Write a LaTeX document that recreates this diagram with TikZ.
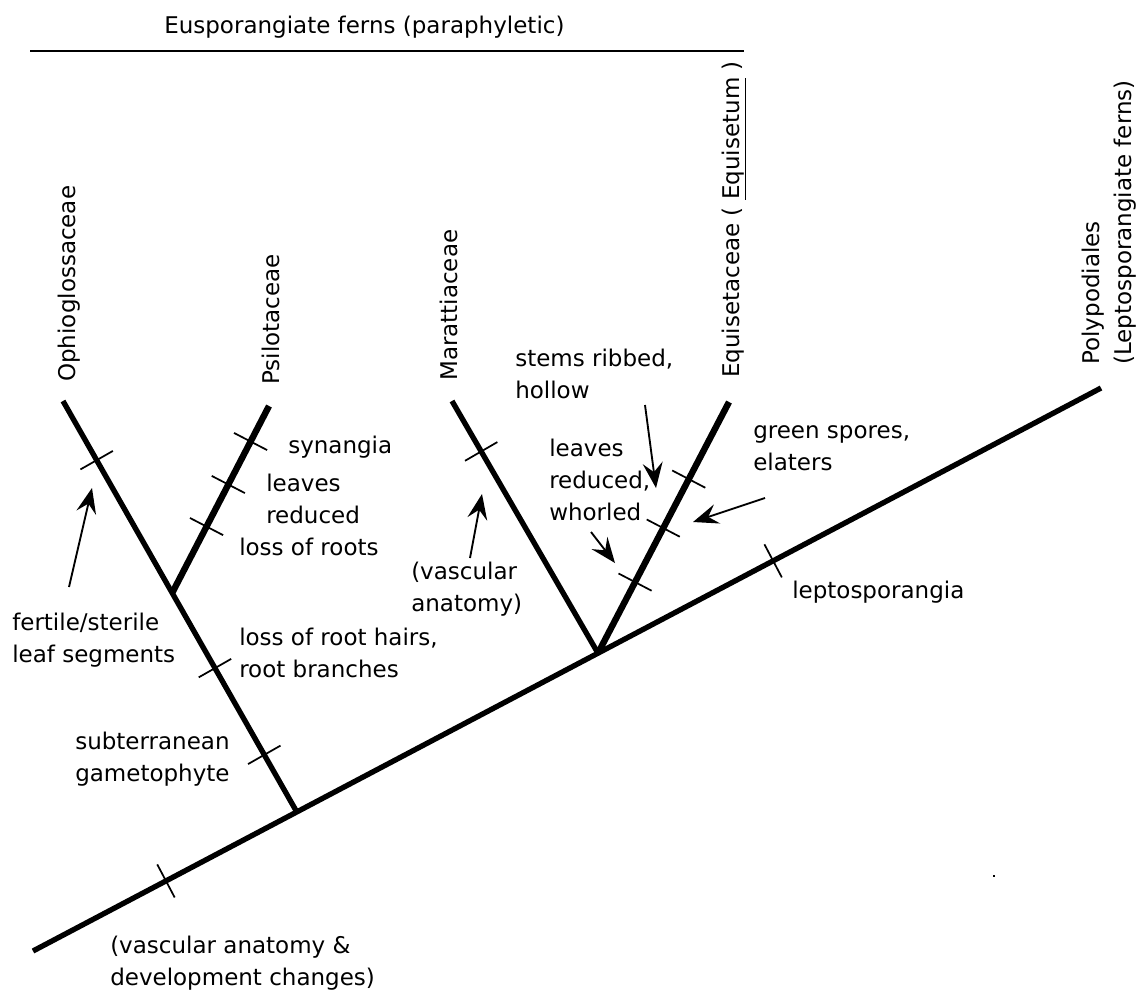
\documentclass[tikz,border=0pt]{standalone}
\usepackage{fontspec}
\setmainfont{DejaVu Sans}
\usetikzlibrary{calc}
\usetikzlibrary{arrows.meta}

\tikzset{
  branch/.style={black, line width=4pt},
  thickbranch/.style={black, line width=4.8pt},
  crossbar/.style={black, line width=1.3pt},
  pointer/.style={black, line width=1.4pt, -{Stealth[length=19pt,width=15pt,inset=7pt]}},
  lbl/.style={inner sep=0, align=left, anchor=base west, font=\fontsize{17.25pt}{24pt}\selectfont},
  taxon/.style={lbl, rotate=90},
}
% short bar across a branch: #1 and #2 are the branch ends, #3 the position
\newcommand{\trait}[3]{\draw[crossbar] ($(#1)!#3!(#2)!14pt!90:(#2)$) -- ($(#1)!#3!(#2)!14pt!-90:(#2)$);}

\begin{document}
\begin{tikzpicture}[x=0.75pt, y=-0.75pt]
\useasboundingbox (0,0) rectangle (1141,993);

% branch ends
\coordinate (root) at (33,951);
\coordinate (poly) at (1101,388);
\coordinate (ophio) at (63,401);
\coordinate (psilo) at (269,406);
\coordinate (maratt) at (452,401);
\coordinate (equis) at (729,402);
\coordinate (ophiobase) at ($(root)!0.247!(poly)$);
\coordinate (psilobase) at ($(ophio)!0.467!(ophiobase)$);
\coordinate (equibase) at ($(root)!0.529!(poly)$);

\draw[branch] (root) -- (poly);
\draw[branch] (ophio) -- (ophiobase);
\draw[thickbranch] (psilo) -- (psilobase);
\draw[branch] (maratt) -- (equibase);
\draw[thickbranch] (equis) -- (equibase);

\trait{root}{poly}{0.1245}
\trait{root}{poly}{0.693}
\foreach \t in {0.144,0.650,0.861} {\trait{ophio}{ophiobase}{\t}}
\foreach \t in {0.19,0.42,0.645} {\trait{psilo}{psilobase}{\t}}
\foreach \t in {0.307,0.502,0.717} {\trait{equis}{equibase}{\t}}
\trait{maratt}{equibase}{0.2}

% taxa (base = last line)
\node[taxon] (t-ophio) at (75,382) {Ophioglossaceae};
\node[taxon] (t-psilo) at (279,385) {Psilotaceae};
\node[taxon] (t-maratt) at (457,381) {Marattiaceae};
\node[taxon] (t-equis) at (739,378) {Equisetaceae ( \underline{Equisetum} )};
\node[taxon] (t-poly) at (1131,365) {Polypodiales\\(Leptosporangiate ferns)};

% group
\node[lbl] (group) at (164,33) {Eusporangiate ferns (paraphyletic)};
\coordinate (rule-l) at (30,51);
\coordinate (rule-r) at (744,51);
\draw[line width=1.5pt] (rule-l) -- (rule-r);

% characters (base = last line)
\node[lbl] (fertile) at (12,662) {fertile/sterile\\leaf segments};
\node[lbl] (synangia) at (288,453) {synangia};
\node[lbl] (leaves) at (266,523) {leaves\\reduced};
\node[lbl] (roots) at (239,555) {loss of roots};
\node[lbl] (hairs) at (239,677) {loss of root hairs,\\root branches};
\node[lbl] (subterr) at (75,781) {subterranean\\gametophyte};
\node[lbl] (devel) at (110,985) {(vascular anatomy \&\\development changes)};
\node[lbl] (vascular) at (411,611) {(vascular\\anatomy)};
\node[lbl] (stems) at (515,398) {stems ribbed,\\hollow};
\node[lbl] (whorled) at (549,520) {leaves\\reduced,\\whorled};
\node[lbl] (green) at (753,470) {green spores,\\elaters};
\node[lbl] (lepto) at (792,598) {leptosporangia};

% arrows
\coordinate (a1) at (69,587);   \coordinate (b1) at (92,488);
\coordinate (a2) at (470,558);  \coordinate (b2) at (482,494);
\coordinate (a3) at (645,405);  \coordinate (b3) at (656,488);
\coordinate (a4) at (591,532);  \coordinate (b4) at (615,563);
\coordinate (a5) at (765,498);  \coordinate (b5) at (693,522);
\foreach \i in {1,...,5} {\draw[pointer] (a\i) -- (b\i);}

\fill (992.5,874.5) rectangle +(2,2);
\end{tikzpicture}
\end{document}
